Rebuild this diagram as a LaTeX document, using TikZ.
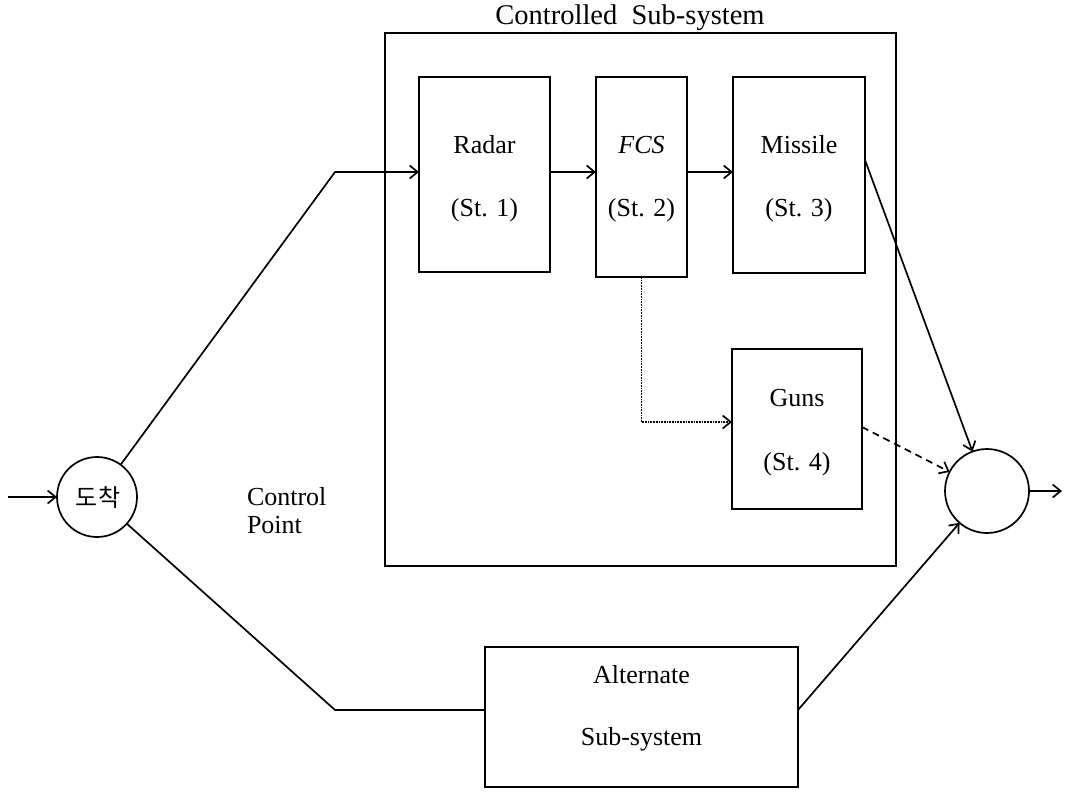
\documentclass[tikz,border=0pt]{standalone}
\usepackage{fontspec}
\setmainfont{Liberation Serif}
\newfontfamily\kofont{Noto Sans CJK KR}
\usetikzlibrary{arrows.meta}
\begin{document}
\begin{tikzpicture}[x=1pt,y=-1pt,
  every node/.style={inner sep=0pt, outer sep=0pt},
  lab/.style={font=\fontsize{26}{30}\selectfont, anchor=base},
  blk/.style={draw, line width=1.7pt},
  conn/.style={line width=1.7pt},
  arr/.style={conn, -{Straight Barb[length=8pt,width=13pt,line width=1.7pt]}},
  node circ/.style={draw, circle, line width=1.7pt}]
\useasboundingbox (0,0) rectangle (1065,792);

% boxes
\node[blk, minimum width=511pt, minimum height=533pt] (big) at (640.5,299.5) {};
\node[blk, minimum width=131pt, minimum height=195pt] (radar) at (484.5,174.5) {};
\node[blk, minimum width=91pt, minimum height=200pt] (fcs) at (641.5,177) {};
\node[blk, minimum width=132pt, minimum height=196pt] (missile) at (799,175) {};
\node[blk, minimum width=130pt, minimum height=160pt] (guns) at (797,429) {};
\node[blk, minimum width=313pt, minimum height=140pt] (alt) at (641.5,717) {};
\node[node circ, minimum size=80pt] (c1) at (97,497) {};
\node[node circ, minimum size=84pt] (c2) at (987,491) {};

% texts
\node[lab, font=\fontsize{28.5}{32}\selectfont] (title) at (630,25) {Controlled\ \ Sub-system};
\node[lab] (t1) at (484.5,153.5) {Radar};
\node[lab] (t1b) at (484.5,216) {(St. 1)};
\node[lab] (t2) at (641.5,153.5) {\textit{FCS}};
\node[lab] (t2b) at (641.5,216) {(St. 2)};
\node[lab] (t3) at (799,153.5) {Missile};
\node[lab] (t3b) at (799,216) {(St. 3)};
\node[lab] (t4) at (797,406) {Guns};
\node[lab] (t4b) at (797,470) {(St. 4)};
\node[lab] (t5) at (641.5,683.5) {Alternate};
\node[lab] (t5b) at (641.5,745) {Sub-system};
\node[lab, anchor=base west] (cp1) at (247,505) {Control};
\node[lab, anchor=base west] (cp2) at (247,533) {Point};
\node[font=\kofont\fontsize{24}{28}\selectfont] (ko) at (98,497) {도착};

% connectors
\coordinate (in) at (8,497);
\coordinate (out) at (1062,491);
\coordinate (k1) at (335,172);
\coordinate (k2) at (335,710);
\draw[arr] (in) -- (c1);
\draw[arr] (c1) -- (k1) -- (radar.west |- k1);
\draw[arr] (radar.east |- k1) -- (fcs.west |- k1);
\draw[arr] (fcs.east |- k1) -- (missile.west |- k1);
\draw[arr] (missile.east |- 0,160) -- (c2);
\draw[arr, densely dotted] (fcs.south) |- (guns.west |- 0,422);
\draw[arr, dash pattern=on 7pt off 5pt] (guns.east |- 0,427) -- (c2);
\draw[conn] (c1) -- (k2) -- (alt.west |- k2);
\draw[arr] (alt.east |- k2) -- (c2);
\draw[arr] (c2) -- (out);
\end{tikzpicture}
\end{document}
